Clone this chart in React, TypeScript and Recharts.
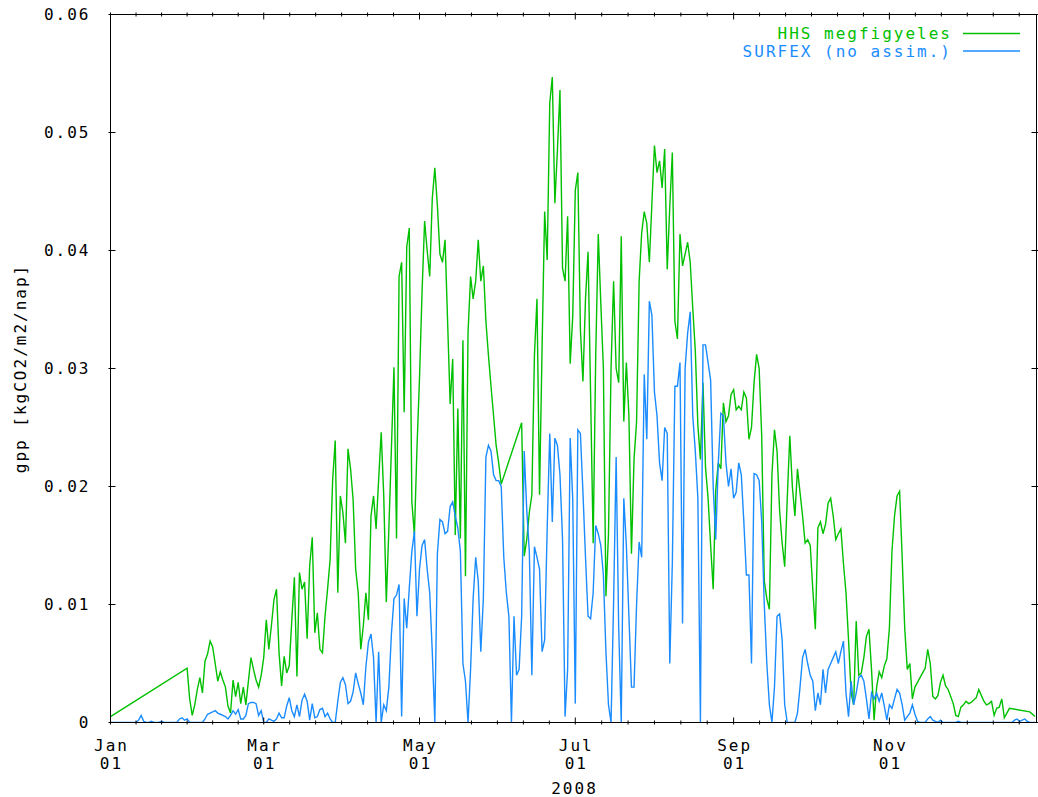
import { Legend, Line, LineChart, XAxis, YAxis } from "recharts";

const GREEN = "#00c000";
const BLUE = "#1a8cff";
const FONT = "'DejaVu Sans Mono', monospace";
const FS = 16;
const LS = 2;

// day of year (0 = Jan 01) on which each month of 2008 starts
const monthStart = [0, 31, 60, 91, 121, 152, 182, 213, 244, 274, 305, 335];

// HHS megfigyeles - measured daily gpp [kgCO2/m2/nap], null = no measurement
const hhsJan = [
  0.0005, null, null, null, null, null, null, null, null, null, null, null, null, null, null, null,
  null, null, null, null, null, null, null, null, null, null, null, null, null, null, 0.0046,
];
const hhsFeb = [
  0.002, 0.0006, 0.0015, 0.0028, 0.0038, 0.0025, 0.0052, 0.0058, 0.0069, 0.0064, 0.005, 0.0035, 0.0043,
  0.0036, 0.003, 0.0014, 0.0008, 0.0036, 0.0022, 0.0034, 0.0016, 0.003, 0.0015, 0.0035, 0.0055, 0.0045,
  0.0036, 0.003, 0.004,
];
const hhsMar = [
  0.0055, 0.0087, 0.0062, 0.0082, 0.0104, 0.0113, 0.0059, 0.0031, 0.0056, 0.0042, 0.0048, 0.0087, 0.0123,
  0.0039, 0.0127, 0.0113, 0.0119, 0.0071, 0.0133, 0.0157, 0.0076, 0.0093, 0.0062, 0.0059, 0.009, 0.0113,
  0.0138, 0.0206, 0.0239, 0.011, 0.0192,
];
const hhsApr = [
  0.0178, 0.0152, 0.0232, 0.0215, 0.0189, 0.013, 0.011, 0.0062, 0.0082, 0.011, 0.0087, 0.0175, 0.0192,
  0.0164, 0.0206, 0.0246, 0.0192, 0.0102, 0.0164, 0.0232, 0.0301, 0.0156, 0.0378, 0.039, 0.0263, 0.0403,
  0.0419, 0.0187, 0.0159, 0.0232,
];
const hhsMay = [
  0.0292, 0.0365, 0.0425, 0.04, 0.0378, 0.0444, 0.047, 0.0438, 0.0397, 0.039, 0.0409, 0.034, 0.027,
  0.0308, 0.0159, 0.0266, 0.0156, 0.0324, 0.0124, 0.033, 0.0378, 0.0359, 0.0374, 0.0409, 0.0374, 0.0387,
  0.034, 0.0311, 0.0285, 0.026, 0.0235,
];
const hhsJun = [
  0.022, 0.0202, null, null, null, null, null, null, null, 0.0254, 0.0141, 0.0155, 0.0178, 0.0193,
  0.0311, 0.0359, 0.0193, 0.0318, 0.0433, 0.0392, 0.0525, 0.0547, 0.044, 0.0485, 0.0536, 0.0385, 0.0374,
  0.0429, 0.0304, 0.0344,
];
const hhsJul = [
  0.0451, 0.0466, 0.0333, 0.0289, 0.0359, 0.0399, 0.0278, 0.0152, 0.0311, 0.0414, 0.0355, 0.03, 0.0107,
  0.016, 0.03, 0.0374, 0.03, 0.0288, 0.0412, 0.0255, 0.0305, 0.026, 0.0143, 0.0223, 0.0255, 0.0374,
  0.0415, 0.0433, 0.0423, 0.039, 0.044,
];
const hhsAug = [
  0.0489, 0.0466, 0.0476, 0.0453, 0.0486, 0.0384, 0.0437, 0.0483, 0.034, 0.0325, 0.0414, 0.0387, 0.0397,
  0.0407, 0.039, 0.0351, 0.0315, 0.0252, 0.0223, 0.0288, 0.0216, 0.019, 0.015, 0.0113, 0.0197, 0.022,
  0.0215, 0.0271, 0.0255, 0.026, 0.0278,
];
const hhsSep = [
  0.0282, 0.0265, 0.0268, 0.0265, 0.028, 0.0275, 0.024, 0.025, 0.0288, 0.0312, 0.03, 0.0243, 0.012,
  0.0105, 0.0096, 0.021, 0.0248, 0.023, 0.018, 0.0152, 0.0132, 0.019, 0.0243, 0.02, 0.0175, 0.0215,
  0.0195, 0.0175, 0.0152, 0.0155,
];
const hhsOct = [
  0.015, 0.0113, 0.0079, 0.0165, 0.017, 0.016, 0.0168, 0.0186, 0.019, 0.0175, 0.0155, 0.016, 0.0164,
  0.0135, 0.011, 0.007, 0.0025, 0.0015, 0.0086, 0.004, 0.0042, 0.0055, 0.0073, 0.0079, 0.0045, 0.0002,
  0.003, 0.0043, 0.0038, 0.0048, 0.0054,
];
const hhsNov = [
  0.008, 0.0145, 0.0175, 0.0192, 0.0196, 0.014, 0.008, 0.0045, 0.005, 0.002, 0.003, 0.0034, 0.0038,
  0.0042, 0.0046, 0.0062, 0.005, 0.0022, 0.002, 0.0023, 0.0034, 0.004, 0.0031, 0.0028, 0.0022, 0.0016,
  0.0006, 0.0005, 0.0013, 0.0015,
];
const hhsDec = [
  0.0018, 0.0016, 0.0017, 0.0019, 0.0021, 0.0028, 0.0023, 0.0018, 0.0015, 0.0016, 0.0018, 0.0006,
  0.0012, 0.0013, 0.002, 0.0004, 0.0008, 0.0012, null, null, null, null, null, null, null, 0.0009, null,
  0.0005,
];

// SURFEX (no assim.) - modelled daily gpp [kgCO2/m2/nap]
const surfexJan = [
  0, 0, 0, 0, 0, 0, 0, 0, 0, 0, 0, 0.0002, 0.0006, 0.0001, 0, 0, 0.0001, 0, 0, 0, 0.0001, 0, 0, 0, 0, 0,
  0, 0.0003, 0.0004, 0.0002, 0.0003,
];
const surfexFeb = [
  0, 0, 0, 0, 0, 0, 0.0003, 0.0007, 0.0008, 0.0009, 0.001, 0.0008, 0.0007, 0.0006, 0.0005, 0.0003,
  0.0006, 0.001, 0.0007, 0.0011, 0.0003, 0.0003, 0.0006, 0.0016, 0.0017, 0.0017, 0.0016, 0.0006, 0.001,
];
const surfexMar = [
  0, 0, 0.0003, 0.0002, 0.0001, 0.0003, 0.0008, 0.0004, 0.0004, 0.0014, 0.0021, 0.001, 0.0005, 0.0015,
  0.0005, 0.0019, 0.0024, 0.0018, 0.0002, 0.0016, 0.0004, 0.0005, 0.0011, 0.0012, 0.0005, 0.0008, 0.0003,
  0, 0, 0.0018, 0.0034,
];
const surfexApr = [
  0.0038, 0.0032, 0.0016, 0.0018, 0.0026, 0.0042, 0.0033, 0.0025, 0.0015, 0.0047, 0.0068, 0.0075, 0.0055,
  0, 0.006, 0, 0.0015, 0.001, 0.003, 0.0075, 0.0105, 0.0108, 0.0117, 0.0005, 0.0105, 0.008, 0.0114,
  0.0145, 0.0162, 0.009,
];
const surfexMay = [
  0.013, 0.015, 0.0155, 0.013, 0.011, 0.006, 0, 0.0143, 0.0172, 0.017, 0.016, 0.0162, 0.0183, 0.0187,
  0.0175, 0.0165, 0.0145, 0.005, 0.0035, 0, 0.0045, 0.0105, 0.014, 0.012, 0.006, 0.0105, 0.0225, 0.0235,
  0.023, 0.021, 0.0205,
];
const surfexJun = [
  0.0205, 0.02, 0.014, 0.011, 0.009, 0, 0.009, 0.004, 0.0045, 0.009, 0.023, 0.018, 0.0145, 0.004, 0.0149,
  0.014, 0.013, 0.006, 0.007, 0.0165, 0.0245, 0.017, 0.0241, 0.0235, 0.021, 0.0156, 0.0005, 0.0045,
  0.0241, 0.0189,
];
const surfexJul = [
  0.0016, 0.0248, 0.0245, 0.0195, 0.014, 0.009, 0.0088, 0.011, 0.0167, 0.016, 0.015, 0.0125, 0.006,
  0.0015, 0, 0.0102, 0.0225, 0.008, 0, 0.019, 0.015, 0.009, 0.003, 0.003, 0.01, 0.0153, 0.014, 0.0295,
  0.024, 0.0357, 0.0345,
];
const surfexAug = [
  0.028, 0.026, 0.022, 0.0205, 0.025, 0.0245, 0.005, 0.0135, 0.0285, 0.0285, 0.0305, 0.0084, 0.03, 0.033,
  0.0348, 0.026, 0.023, 0.019, 0, 0.032, 0.032, 0.0305, 0.029, 0.02, 0.0155, 0.022, 0.0262, 0.026, 0.022,
  0.02, 0.0215,
];
const surfexSep = [
  0.019, 0.0195, 0.022, 0.021, 0.017, 0.0125, 0.0125, 0.005, 0.0211, 0.021, 0.0205, 0.017, 0.01, 0.005,
  0.0015, 0, 0.003, 0.009, 0.0092, 0.007, 0.0015, 0, 0, 0, 0, 0.0008, 0.003, 0.0055, 0.0062, 0.005,
];
const surfexOct = [
  0.004, 0.0035, 0.001, 0.0025, 0.0015, 0.0045, 0.0025, 0.0045, 0.005, 0.0055, 0.006, 0.005, 0.006,
  0.0069, 0.0025, 0.0005, 0.0035, 0.0015, 0.0025, 0.0038, 0.004, 0.0035, 0.002, 0.0003, 0.0025, 0.002,
  0.0025, 0.0018, 0.0025, 0.0014, 0.0002,
];
const surfexNov = [
  0.0015, 0.0012, 0.002, 0.0028, 0.0025, 0.0015, 0.0002, 0.0005, 0.0008, 0.0015, 0.0007, 0.0001, 0, 0, 0,
  0.0003, 0.0005, 0.0002, 0.0001, 0, 0.0002, 0, 0, 0, 0, 0, 0, 0.0001, 0, 0,
];
const surfexDec = [
  0, 0, 0, 0, 0, 0, 0, 0, 0, 0, 0, 0, 0, 0, 0, 0, 0, 0, 0, 0.0002, 0.0003, 0.0001, 0.0002, 0.0003, 0.0001,
  0, 0, 0,
];

const hhsMonths = [hhsJan, hhsFeb, hhsMar, hhsApr, hhsMay, hhsJun, hhsJul, hhsAug, hhsSep, hhsOct, hhsNov, hhsDec];
const surfexMonths = [
  surfexJan, surfexFeb, surfexMar, surfexApr, surfexMay, surfexJun,
  surfexJul, surfexAug, surfexSep, surfexOct, surfexNov, surfexDec,
];

const rows: { day: number; hhs: number | null; surfex: number }[] = [];
hhsMonths.forEach((month, m) => {
  month.forEach((v, i) => {
    rows.push({ day: monthStart[m] + i, hhs: v, surfex: surfexMonths[m][i] });
  });
});

// x axis: labelled tics every two months, six minor steps in between
const majorTicks = [0, 60, 121, 182, 244, 305];
const majorNames = ["Jan", "Mar", "May", "Jul", "Sep", "Nov"];
const X_END = 362.6;
const bounds = [...majorTicks, 366];
const minorTicks = majorTicks.flatMap((t, i) =>
  [1, 2, 3, 4, 5].map((k) => t + ((bounds[i + 1] - t) * k) / 6)
);
const xTicks = [...majorTicks, ...minorTicks].filter((t) => t <= X_END).sort((a, b) => a - b);

const yTicks = [0, 0.01, 0.02, 0.03, 0.04, 0.05, 0.06];

const txt = { fontFamily: FONT, fontSize: FS, letterSpacing: LS, fill: "#000" };

function BottomTick({ x, y, payload }: any) {
  const i = majorTicks.indexOf(payload.value);
  return (
    <g>
      <line x1={x} x2={x} y1={y} y2={y - (i >= 0 ? 7 : 4)} stroke="#000" />
      {i >= 0 && (
        <text textAnchor="middle" {...txt}>
          <tspan x={x + LS / 2} y={y + 26.5}>{majorNames[i]}</tspan>
          <tspan x={x + LS / 2} y={y + 44.5}>01</tspan>
        </text>
      )}
    </g>
  );
}

function TopTick({ x, y, payload }: any) {
  const len = majorTicks.includes(payload.value) ? 7 : 4;
  return <line x1={x} x2={x} y1={y} y2={y + len} stroke="#000" />;
}

function LeftTick({ x, y, payload }: any) {
  const v = payload.value;
  return (
    <g>
      <line x1={x} x2={x + 7} y1={y} y2={y} stroke="#000" />
      <text x={x - 20 + LS} y={y + 5.5} textAnchor="end" {...txt}>
        {v === 0 ? "0" : v.toFixed(2)}
      </text>
    </g>
  );
}

function RightTick({ x, y }: any) {
  return <line x1={x} x2={x - 7} y1={y} y2={y} stroke="#000" />;
}

function YTitle({ viewBox }: any) {
  const cx = viewBox.x + viewBox.width - 85;
  const cy = viewBox.y + viewBox.height / 2;
  return (
    <text x={cx} y={cy} transform={`rotate(-90 ${cx} ${cy})`} textAnchor="middle" {...txt}>
      gpp [kgCO2/m2/nap]
    </text>
  );
}

function XTitle({ viewBox }: any) {
  return (
    <text x={viewBox.x + viewBox.width / 2 + LS / 2} y={viewBox.y + 71} textAnchor="middle" {...txt}>
      2008
    </text>
  );
}

function LegendBox({ payload }: any) {
  return (
    <svg width={1038} height={70} style={{ display: "block" }}>
      {(payload || []).map((p: any, i: number) => {
        const y = 33.5 + i * 17.5;
        return (
          <g key={p.value}>
            <text x={950 + LS} y={y + 5.5} textAnchor="end" {...txt} fill={p.color}>
              {p.value}
            </text>
            <line x1={963} x2={1020} y1={y} y2={y} stroke={p.color} strokeWidth={1.5} />
          </g>
        );
      })}
    </svg>
  );
}

// axes are 1px thick so that they get drawn; the margins put the plot box at x 110.5-1036.5, y 14.5-722.5
const axisCommon = {
  allowDataOverflow: true,
  interval: 0 as const,
  tickSize: 0,
  tickLine: false,
  axisLine: { stroke: "#000" },
};

export default function App() {
  return (
    <div style={{ position: "absolute", left: 0, top: 0, width: 1038, height: 797, background: "#fff" }}>
      <LineChart
        width={1038}
        height={797}
        data={rows}
        margin={{ top: 13.5, right: 0.5, bottom: 73.5, left: 109.5 }}
        style={{ fontFamily: FONT }}
      >
        <XAxis
          {...axisCommon}
          xAxisId="b"
          dataKey="day"
          type="number"
          domain={[0, X_END]}
          ticks={xTicks}
          height={1}
          tick={BottomTick}
          label={<XTitle />}
        />
        <XAxis
          {...axisCommon}
          xAxisId="t"
          orientation="top"
          dataKey="day"
          type="number"
          domain={[0, X_END]}
          ticks={xTicks}
          height={1}
          tick={TopTick}
        />
        <YAxis
          {...axisCommon}
          yAxisId="l"
          type="number"
          domain={[0, 0.06]}
          ticks={yTicks}
          width={1}
          tick={LeftTick}
          label={<YTitle />}
        />
        <YAxis
          {...axisCommon}
          yAxisId="r"
          orientation="right"
          type="number"
          domain={[0, 0.06]}
          ticks={yTicks}
          width={1}
          tick={RightTick}
        />
        <Legend
          layout="vertical"
          align="center"
          verticalAlign="middle"
          wrapperStyle={{ top: 0, left: 0, width: 1038, height: 70 }}
          content={LegendBox}
        />
        <Line
          xAxisId="b"
          yAxisId="l"
          type="linear"
          dataKey="hhs"
          name="HHS megfigyeles"
          stroke={GREEN}
          strokeWidth={1.4}
          dot={false}
          activeDot={false}
          connectNulls
          isAnimationActive={false}
        />
        <Line
          xAxisId="b"
          yAxisId="l"
          type="linear"
          dataKey="surfex"
          name="SURFEX (no assim.)"
          stroke={BLUE}
          strokeWidth={1.4}
          dot={false}
          activeDot={false}
          isAnimationActive={false}
        />
      </LineChart>
    </div>
  );
}
